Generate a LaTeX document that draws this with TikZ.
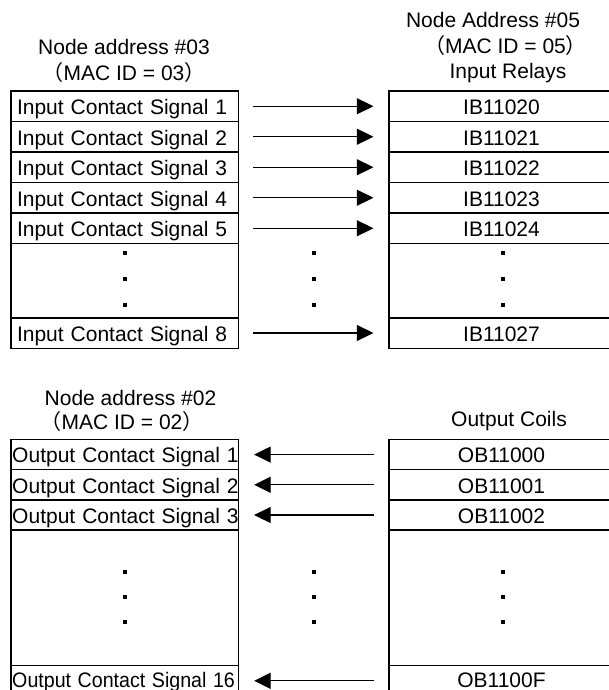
\documentclass[tikz,border=0pt]{standalone}
\usepackage{fontspec}
\setmainfont{Liberation Sans}
\newfontfamily\cjk{Noto Sans CJK JP}
\usetikzlibrary{arrows.meta, positioning}
\tikzset{
  cellbox/.style={
    draw, line width=1.3pt, minimum height=30.5pt,
    text height=16.5pt, text depth=0pt, inner ysep=0pt,
    font=\fontsize{21}{25}\selectfont
  },
  leftcell/.style={cellbox, text width=215.5pt, inner xsep=6pt, align=left},
  outcell/.style={cellbox, text width=225pt, inner xsep=1.25pt, align=left, minimum height=30.2pt},
  relaycell/.style={cellbox, text width=221pt, inner xsep=2pt, align=center},
  coilcell/.style={relaycell, minimum height=30.2pt},
  gapcell/.style={cellbox, minimum width=#1, text width=, inner xsep=0pt},
  headlabel/.style={anchor=base, inner sep=0pt, font=\fontsize{21}{25}\selectfont},
  sigarrow/.style={-{Triangle[length=16.5pt, width=16pt]}, line width=1.3pt,
    shorten <=14pt, shorten >=15pt},
}

\begin{document}
\begin{tikzpicture}[x=1pt, y=-1pt]
  \useasboundingbox (0,0) rectangle (608,690);
  % headings
  \node[headlabel] (n03) at (124,55) {Node address \#03};
  \node[headlabel] (mac03) at (124,81) {{\cjk （}MAC ID = 03{\cjk ）}};
  \node[headlabel] (n05) at (493,28) {Node Address \#05};
  \node[headlabel] (mac05) at (505.5,54) {{\cjk （}MAC ID = 05{\cjk ）}};
  \node[headlabel] (relays) at (508,78.5) {Input Relays};
  \node[headlabel] (n02) at (130.5,405) {Node address \#02};
  \node[headlabel] (mac02) at (122,429) {{\cjk （}MAC ID = 02{\cjk ）}};
  \node[headlabel] (coils) at (509,426.5) {Output Coils};
  % input contacts -> input relays
  \foreach \i/\r in {1/0,2/1,3/2,4/3,5/4} {
    \node[leftcell] (in\i) at (124.75,75.75+30.5*\i) {\mbox{Input Contact Signal \i}};
    \node[relaycell] (ib\i) at (501.5,75.75+30.5*\i) {IB1102\r};
    \draw[sigarrow] (in\i) -- (ib\i);
  }
  \node[gapcell=227.5pt, minimum height=74.5pt] (ingap) at (124.75,280.75) {};
  \node[gapcell=225pt, minimum height=74.5pt] (ibgap) at (501.5,280.75) {};
  \node[leftcell] (in8) at (124.75,333) {\mbox{Input Contact Signal 8}};
  \node[relaycell] (ib8) at (501.5,333) {IB11027};
  \draw[sigarrow] (in8) -- (ib8);
  % output coils -> output contacts
  \foreach \i/\r in {1/0,2/1,3/2} {
    \node[outcell] (out\i) at (124.75,424.4+30.2*\i) {\mbox{Output Contact Signal \i}};
    \node[coilcell] (ob\i) at (501.5,424.4+30.2*\i) {OB1100\r};
    \draw[sigarrow] (ob\i) -- (out\i);
  }
  \node[gapcell=227.5pt, minimum height=135.6pt] (outgap) at (124.75,597.9) {};
  \node[gapcell=225pt, minimum height=135.6pt] (obgap) at (501.5,597.9) {};
  \node[outcell, text height=13pt] (out16) at (124.75,680.8) {\scalebox{0.935}[1]{Output Contact Signal 16}};
  \node[coilcell, text height=13pt] (ob16) at (501.5,680.8) {OB1100F};
  \draw[sigarrow] (ob16) -- (out16);
  % ellipsis dots
  \foreach \x in {125,314,503}
    \foreach \y in {253,279,305,572,597,622}
      \fill (\x-2,\y-2) rectangle (\x+2,\y+2);
\end{tikzpicture}
\end{document}
